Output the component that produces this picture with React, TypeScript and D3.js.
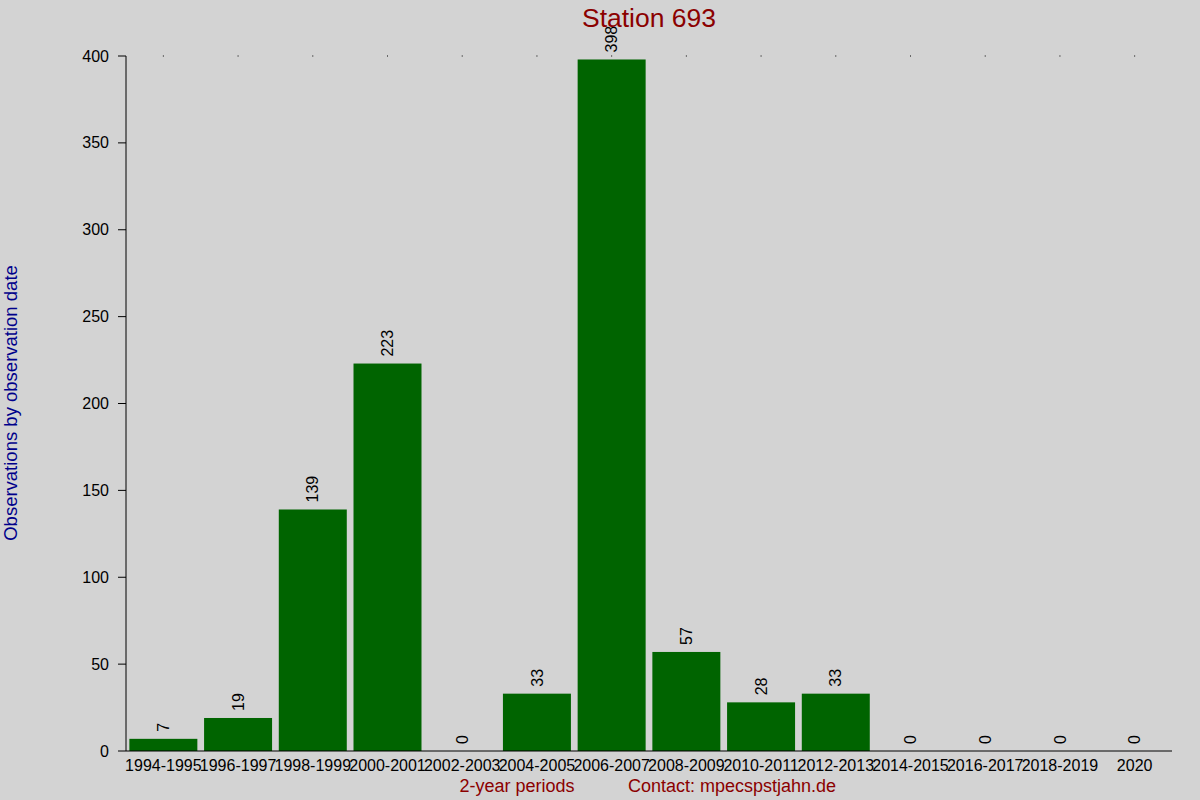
import React, { useEffect, useRef } from 'react';
import * as d3 from 'd3';

const periods = [
  '1994-1995', '1996-1997', '1998-1999', '2000-2001', '2002-2003', '2004-2005', '2006-2007',
  '2008-2009', '2010-2011', '2012-2013', '2014-2015', '2016-2017', '2018-2019', '2020',
];
const counts = [7, 19, 139, 223, 0, 33, 398, 57, 28, 33, 0, 0, 0, 0];
const yTicks = [0, 50, 100, 150, 200, 250, 300, 350, 400];

export default function App() {
  const svgRef = useRef<SVGSVGElement>(null);

  useEffect(() => {
    if (!svgRef.current) return;
    const svg = d3.select(svgRef.current);
    svg.selectAll('*').remove();

    const width = 1200;
    const height = 800;
    const left = 126, right = 1172, top = 56, bottom = 751;
    const font = '"Liberation Sans", Arial, sans-serif';

    svg.append('rect').attr('width', width).attr('height', height).attr('fill', '#d3d3d3');

    const x = d3.scaleBand().domain(periods).range([left, right]).paddingInner(0.09).paddingOuter(0.045);
    const y = d3.scaleLinear().domain([0, 400]).range([bottom, top]);

    // bars
    svg.selectAll('.bar')
      .data(counts)
      .enter()
      .append('rect')
      .attr('x', (d, i) => x(periods[i])!)
      .attr('y', d => y(d))
      .attr('width', x.bandwidth())
      .attr('height', d => bottom - y(d))
      .attr('fill', '#006400');

    // value labels
    svg.selectAll('.val')
      .data(counts)
      .enter()
      .append('text')
      .attr('transform', (d, i) => `translate(${x(periods[i])! + x.bandwidth() / 2},${y(d) - 7}) rotate(-90)`)
      .attr('dy', '0.35em')
      .attr('font-family', font)
      .attr('font-size', 16)
      .attr('fill', '#000')
      .text(d => d);

    // top dots at band centres
    svg.selectAll('.dot')
      .data(periods)
      .enter()
      .append('rect')
      .attr('x', d => x(d)! + x.bandwidth() / 2 - 0.5)
      .attr('y', top - 0.5)
      .attr('width', 1)
      .attr('height', 1)
      .attr('fill', '#000');

    // y axis
    svg.append('line')
      .attr('x1', left).attr('x2', left).attr('y1', top).attr('y2', bottom)
      .attr('stroke', '#000');
    yTicks.forEach(t => {
      svg.append('line')
        .attr('x1', left - 8).attr('x2', left).attr('y1', y(t)).attr('y2', y(t))
        .attr('stroke', '#000');
      svg.append('text')
        .attr('x', left - 17).attr('y', y(t)).attr('dy', '0.35em')
        .attr('text-anchor', 'end')
        .attr('font-family', font).attr('font-size', 16).attr('fill', '#000')
        .text(t);
    });

    // x axis
    svg.append('line')
      .attr('x1', left).attr('x2', right).attr('y1', bottom).attr('y2', bottom)
      .attr('stroke', '#000');
    periods.forEach(p => {
      svg.append('text')
        .attr('x', x(p)! + x.bandwidth() / 2).attr('y', 771)
        .attr('text-anchor', 'middle')
        .attr('font-family', font).attr('font-size', 16).attr('fill', '#000')
        .text(p);
    });

    // titles
    svg.append('text')
      .attr('x', 649).attr('y', 27)
      .attr('text-anchor', 'middle')
      .attr('font-family', font).attr('font-size', 26.5).attr('fill', '#8b0000')
      .text('Station 693');
    svg.append('text')
      .attr('x', 517).attr('y', 792)
      .attr('text-anchor', 'middle')
      .attr('font-family', font).attr('font-size', 18).attr('fill', '#8b0000')
      .text('2-year periods');
    svg.append('text')
      .attr('x', 732).attr('y', 792)
      .attr('text-anchor', 'middle')
      .attr('font-family', font).attr('font-size', 18).attr('fill', '#8b0000')
      .text('Contact: mpecspstjahn.de');
    svg.append('text')
      .attr('transform', 'translate(17,403) rotate(-90)')
      .attr('text-anchor', 'middle')
      .attr('font-family', font).attr('font-size', 18.5).attr('fill', '#00008b')
      .text('Observations by observation date');
  }, []);

  return (
    <div style={{ position: 'absolute', left: 0, top: 0 }}>
      <svg ref={svgRef} width={1200} height={800} style={{ display: 'block' }} />
    </div>
  );
}
